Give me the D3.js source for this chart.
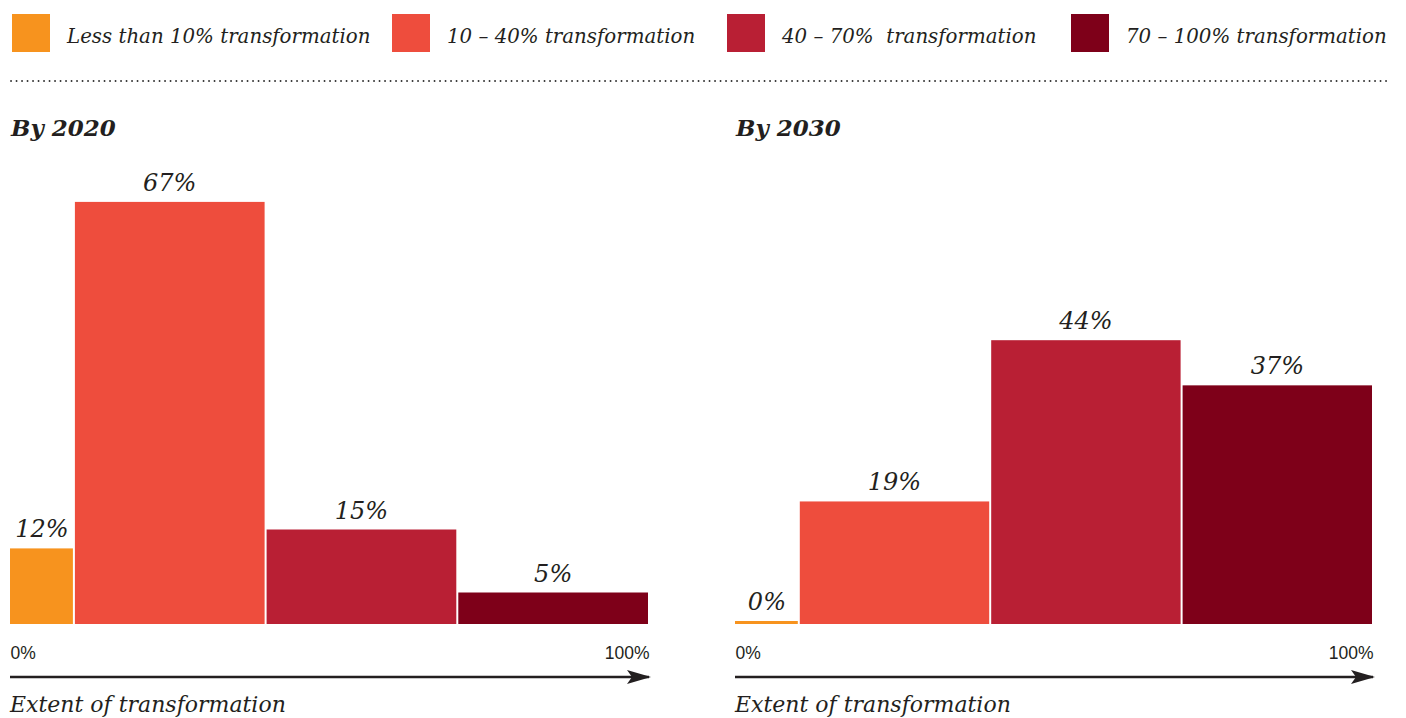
<!DOCTYPE html>
<html lang="en">
<head>
    <meta charset="UTF-8">
    <title>Extent of transformation</title>
    <style>
        body { margin: 0; background: #fff; }
        .serif { font-family: "DejaVu Serif", "Liberation Serif", serif; fill: #231f20; }
    </style>
</head>
<body>
<script src="https://cdn.jsdelivr.net/npm/d3@7"></script>
<script>
    // data
    var categories = ["Less than 10% transformation", "10 – 40% transformation", "40 – 70%  transformation", "70 – 100% transformation"];
    var binStart = [0, 10, 40, 70];
    var binEnd = [10, 40, 70, 100];
    var colors = ["#f7931e", "#ee4d3d", "#b91f34", "#7e0019"];
    var panelTitles = ["By 2020", "By 2030"];
    var values2020 = [12, 67, 15, 5];
    var values2030 = [0, 19, 44, 37];
    var axisTicks = [0, 100];
    var axisTitle = "Extent of transformation";

    var width = 1406, height = 718;
    var svg = d3.select("body").append("svg")
        .attr("width", width)
        .attr("height", height);

    // legend
    var legendX = [12, 392, 727, 1071];
    var legend = svg.selectAll(".legend")
        .data(categories)
        .enter().append("g")
        .attr("class", "legend")
        .attr("transform", function(d, i){ return "translate(" + legendX[i] + ",14)"; });
    legend.append("rect")
        .attr("width", 38).attr("height", 38)
        .attr("fill", function(d, i){ return colors[i]; });
    legend.append("text")
        .attr("class", "serif")
        .attr("x", 55).attr("y", 29)
        .attr("font-style", "italic")
        .attr("font-size", 19.8)
        .style("white-space", "pre")
        .text(function(d){ return d; });

    // dotted rule
    svg.append("line")
        .attr("x1", 11).attr("x2", 1388)
        .attr("y1", 81).attr("y2", 81)
        .attr("stroke", "#333")
        .attr("stroke-width", 1.8)
        .attr("stroke-linecap", "round")
        .attr("stroke-dasharray", "0.1,5.4");

    // arrow marker
    svg.append("defs").append("marker")
        .attr("id", "arrow")
        .attr("viewBox", "0 0 24 14")
        .attr("refX", 22).attr("refY", 7)
        .attr("markerWidth", 24).attr("markerHeight", 14)
        .attr("markerUnits", "userSpaceOnUse")
        .attr("orient", "auto")
        .append("path")
        .attr("d", "M0,0 L24,7 L0,14 L5,7 Z")
        .attr("fill", "#231f20");

    var panels = [
        { title: panelTitles[0], values: values2020, left: 10, right: 649, pxPerPct: 6.3 },
        { title: panelTitles[1], values: values2030, left: 735, right: 1373, pxPerPct: 6.45 }
    ];
    var baseY = 624;

    panels.forEach(function(p){
        var g = svg.append("g");
        var x = d3.scaleLinear().domain([0, 100]).range([p.left, p.right]);
        var y = d3.scaleLinear().domain([0, 100]).range([baseY, baseY - 100 * p.pxPerPct]);

        g.append("text")
            .attr("class", "serif")
            .attr("x", p.left + 1).attr("y", 136)
            .attr("font-style", "italic")
            .attr("font-weight", "bold")
            .attr("font-size", 23)
            .text(p.title);

        var bars = g.selectAll(".bar")
            .data(p.values)
            .enter().append("g")
            .attr("class", "bar");

        bars.append("rect")
            .attr("x", function(d, i){ return x(binStart[i]) + (i === 0 ? 0 : 1); })
            .attr("width", function(d, i){ return x(binEnd[i]) - x(binStart[i]) - (i === 0 ? 1 : 2); })
            .attr("y", function(d){ return Math.min(y(d), baseY - 3); })
            .attr("height", function(d){ return Math.max(baseY - y(d), 3); })
            .attr("fill", function(d, i){ return colors[i]; });

        bars.append("text")
            .attr("class", "serif")
            .attr("x", function(d, i){ return (x(binStart[i]) + x(binEnd[i])) / 2; })
            .attr("y", function(d){ return Math.min(y(d), baseY - 3) - 11; })
            .attr("text-anchor", "middle")
            .attr("font-style", "italic")
            .attr("font-size", 24)
            .text(function(d){ return d + "%"; });

        var axis = d3.axisBottom(x)
            .tickValues(axisTicks)
            .tickSize(0)
            .tickPadding(0)
            .tickFormat(function(d){ return d + "%"; });
        var ax = g.append("g")
            .attr("transform", "translate(0,659)")
            .call(axis);
        ax.select(".domain").remove();
        ax.selectAll(".tick text")
            .attr("dy", 0)
            .attr("y", 0)
            .attr("font-family", "'Liberation Sans', Arial, sans-serif")
            .attr("font-size", 17.5)
            .attr("fill", "#231f20")
            .attr("text-anchor", function(d){ return d === 0 ? "start" : "end"; });

        g.append("line")
            .attr("x1", x(0)).attr("x2", x(100))
            .attr("y1", 677).attr("y2", 677)
            .attr("stroke", "#231f20")
            .attr("stroke-width", 2.5)
            .attr("marker-end", "url(#arrow)");

        g.append("text")
            .attr("class", "serif")
            .attr("x", p.left).attr("y", 712)
            .attr("font-style", "italic")
            .attr("font-size", 22)
            .text(axisTitle);
    });
</script>
</body>
</html>
